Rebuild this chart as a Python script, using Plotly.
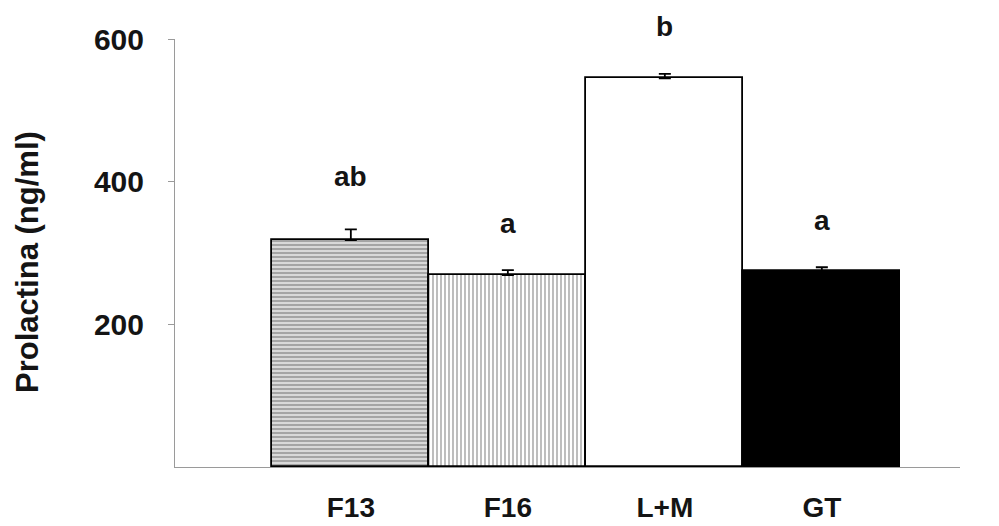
import plotly.graph_objects as go

categories = ["F13", "F16", "L+M", "GT"]
values = [318, 269, 545, 275]
errors = [15, 7, 6, 5]
letters = ["ab", "a", "b", "a"]
letter_y = [407, 342, 618, 346]
y_ticks = [200, 400, 600]
y_max = 600

font_family = "Liberation Sans, Arial, sans-serif"
text_color = "#141414"

fig = go.Figure()
fig.add_trace(go.Bar(
    x=categories,
    y=values,
    width=1.0,
    marker=dict(
        color=["#d9d9d9", "#ffffff", "#ffffff", "#000000"],
        line=dict(color="#000000", width=1.8),
        pattern=dict(
            shape=["-", "|", "", ""],
            fgcolor=["#2e2e2e", "#1a1a1a", "#000000", "#000000"],
            bgcolor=["#e2e2e2", "#ffffff", "#ffffff", "#000000"],
            size=4,
            solidity=0.35,
        ),
    ),
    error_y=dict(type="data", array=errors, arrayminus=[0] * len(errors),
                 symmetric=False, color="#000000", thickness=1.8, width=6),
    showlegend=False,
    cliponaxis=False,
))

# letters placed in paper coords (y range maps 0..y_max -> 0..1) so the top one is not hidden
for c, t, yy in zip(categories, letters, letter_y):
    fig.add_annotation(x=c, xref="x", y=yy / y_max, yref="paper",
                       xanchor="center", yanchor="middle",
                       text=f"<b>{t}</b>", showarrow=False,
                       font=dict(family=font_family, size=28, color=text_color))

fig.add_annotation(xref="paper", yref="paper", x=-0.188, y=0.48,
                   xanchor="center", yanchor="middle",
                   text="<b>Prolactina (ng/ml)</b>", textangle=-90, showarrow=False,
                   font=dict(family=font_family, size=31, color=text_color))

fig.update_layout(
    width=999, height=526,
    margin=dict(l=175, r=39, t=39, b=59, autoexpand=False),
    paper_bgcolor="white", plot_bgcolor="white",
    bargap=0,
    xaxis=dict(
        range=[-1.12, 3.88],
        automargin=False,
        showline=True, linecolor="#9a9a9a", linewidth=1,
        ticks="", showgrid=False, zeroline=False,
        tickfont=dict(family=font_family, size=28, color=text_color, weight="bold"),
        ticklabelstandoff=15,
    ),
    yaxis=dict(
        range=[0, y_max],
        automargin=False,
        tickvals=y_ticks,
        showline=True, linecolor="#9a9a9a", linewidth=1,
        ticks="outside", ticklen=6, tickcolor="#9a9a9a",
        showgrid=False, zeroline=False,
        tickfont=dict(family=font_family, size=30, color=text_color, weight="bold"),
        ticklabelstandoff=18,
    ),
)

fig.write_html("out.html")
